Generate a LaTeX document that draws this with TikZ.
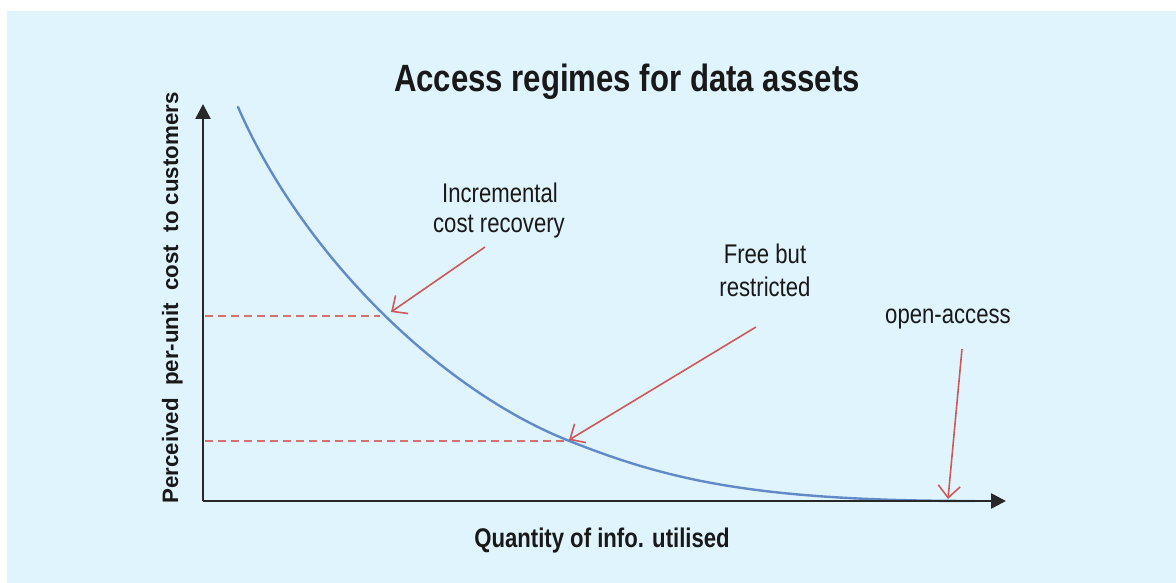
\documentclass[tikz,border=0pt]{standalone}
\usepackage{fontspec}
\setmainfont{Liberation Sans}
\newfontfamily\narrowfont[FakeStretch=0.82]{Liberation Sans}
\usetikzlibrary{arrows.meta}
\definecolor{bgblue}{RGB}{224,244,253}
\definecolor{curveblue}{RGB}{98,138,200}
\definecolor{arrred}{RGB}{208,88,88}
\definecolor{axisgray}{RGB}{40,40,40}
\definecolor{txt}{RGB}{25,25,25}
\tikzset{
  axisline/.style={draw=axisgray, line width=2.6pt, -{Triangle[length=15pt,width=15pt]}},
  costcurve/.style={draw=curveblue, line width=2.4pt, line cap=round},
  levelline/.style={draw=arrred!85, line width=2pt, dash pattern=on 8pt off 5pt},
  pointer/.style={draw=arrred, line width=1.6pt, -{Straight Barb[length=12pt,width=22pt,line width=1.6pt]}},
  titletext/.style={font=\narrowfont\bfseries\fontsize{38}{44}\selectfont, text=txt, anchor=base, inner sep=0pt},
  labeltext/.style={font=\narrowfont\fontsize{27}{30}\selectfont, text=txt, anchor=base, inner sep=0pt},
  axislabel/.style={font=\narrowfont\bfseries\fontsize{27}{32}\selectfont, text=txt, anchor=base, inner sep=0pt},
  ylabeltext/.style={font=\bfseries\fontsize{22.3}{26}\selectfont, text=txt, anchor=base, inner sep=0pt, rotate=90}
}
\begin{document}
\begin{tikzpicture}[x=1pt,y=-1pt]
\useasboundingbox (0,0) rectangle (1176,583);
\fill[white] (0,0) rectangle (1176,583);
\fill[bgblue] (7,11) rectangle (1176,583);

% title
\node[titletext] (title) at (627,92) {Access regimes for data assets};

% axes
\coordinate (O) at (203,501);
\coordinate (ytip) at (203,104);
\coordinate (xtip) at (1006,501);

% dashed levels
\coordinate (l1a) at (205,315.5);
\coordinate (l1b) at (380,315.5);
\coordinate (l2a) at (205,440.5);
\coordinate (l2b) at (564,440.5);
\draw[levelline] (l1a) -- (l1b);
\draw[levelline] (l2a) -- (l2b);

% curve
\coordinate (c0) at (238,107);
\coordinate (c1) at (567,440);
\coordinate (c2) at (975,501);
\draw[costcurve] (c0) .. controls (303,256.5) and (442,390) .. (c1)
                      .. controls (667,480) and (755,501) .. (c2);

\draw[axisline] (O) -- (ytip);
\draw[axisline] (O) -- (xtip);

% labels
\node[labeltext] (inc1) at (500,202) {Incremental};
\node[labeltext] (inc2) at (499,232) {cost recovery};
\node[labeltext] (free1) at (765,263) {Free but};
\node[labeltext] (free2) at (765,296) {restricted};
\node[labeltext] (open) at (948,323) {open-access};

% pointers
\coordinate (t1) at (485,247);
\coordinate (p1) at (391,312);
\coordinate (t2) at (756,327);
\coordinate (p2) at (569,440);
\coordinate (t3) at (962,349);
\coordinate (p3) at (948,499);
\draw[pointer] (t1) -- (p1);
\draw[pointer] (t2) -- (p2);
\draw[pointer] (t3) -- (p3);

% axis labels
\node[axislabel] (xlab) at (602,547) {Quantity of info. utilised};
\node[ylabeltext] (ylab) at (178,298) {Perceived\ \ per-unit\ \ cost\ \ to customers};
\end{tikzpicture}
\end{document}
